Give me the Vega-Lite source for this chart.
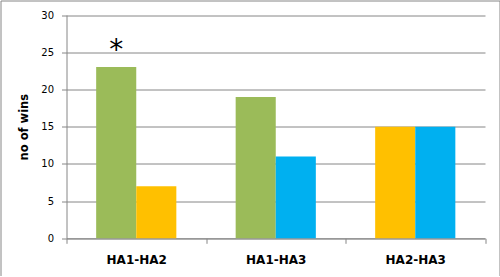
{
  "$schema": "https://vega.github.io/schema/vega-lite/v6.json",
  "autosize": "none",
  "width": 499,
  "height": 275.5,
  "padding": {"left": 0.5, "top": 0.5, "right": 0, "bottom": 0},
  "background": "white",
  "config": {
    "view": {"stroke": "#868686", "strokeWidth": 1},
    "font": "DejaVu Sans"
  },
  "data": {
    "values": [
      {"pair": "HA1-HA2", "slot": "first", "team": "HA1", "wins": 23, "note": "*"},
      {"pair": "HA1-HA2", "slot": "second", "team": "HA2", "wins": 7, "note": ""},
      {"pair": "HA1-HA3", "slot": "first", "team": "HA1", "wins": 19, "note": ""},
      {"pair": "HA1-HA3", "slot": "second", "team": "HA3", "wins": 11, "note": ""},
      {"pair": "HA2-HA3", "slot": "first", "team": "HA2", "wins": 15, "note": ""},
      {"pair": "HA2-HA3", "slot": "second", "team": "HA3", "wins": 15, "note": ""}
    ]
  },
  "encoding": {
    "x": {
      "field": "pair", "type": "nominal", "sort": null,
      "scale": {"range": [66, 484.5], "paddingInner": 0, "paddingOuter": 0},
      "axis": {
        "title": null, "labelAngle": 0, "offset": -37.7, "tickBand": "extent",
        "domainColor": "#868686", "tickColor": "#868686", "tickSize": 5,
        "labelFont": "DejaVu Sans", "labelFontSize": 12, "labelFontWeight": "bold",
        "labelColor": "#000000", "labelPadding": 11, "grid": false
      }
    },
    "xOffset": {
      "field": "slot", "type": "nominal", "sort": ["first", "second"],
      "scale": {"paddingInner": 0, "paddingOuter": 0.74}
    },
    "y": {
      "field": "wins", "type": "quantitative",
      "scale": {"domain": [0, 30], "range": [237.8, 14.5], "nice": false},
      "axis": {
        "title": "no of wins", "offset": -66, "values": [0, 5, 10, 15, 20, 25, 30],
        "domainColor": "#868686", "tickColor": "#868686", "tickSize": 5,
        "gridColor": "#868686", "gridWidth": 1, "grid": true,
        "labelFont": "DejaVu Sans", "labelFontSize": 10, "labelColor": "#000000", "labelPadding": 8,
        "titleFont": "DejaVu Sans", "titleFontSize": 11.5, "titleFontWeight": "bold", "titleColor": "#000000",
        "titlePadding": 11
      }
    }
  },
  "layer": [
    {
      "mark": {"type": "bar"},
      "encoding": {
        "color": {
          "field": "team", "type": "nominal",
          "scale": {"domain": ["HA1", "HA2", "HA3"], "range": ["#9BBB59", "#FFC000", "#00B0F0"]},
          "legend": null
        }
      }
    },
    {
      "transform": [{"filter": "datum.note != ''"}],
      "mark": {"type": "text", "fontSize": 28, "font": "DejaVu Sans", "baseline": "alphabetic", "dy": -8, "color": "#000000"},
      "encoding": {"text": {"field": "note"}}
    }
  ]
}
